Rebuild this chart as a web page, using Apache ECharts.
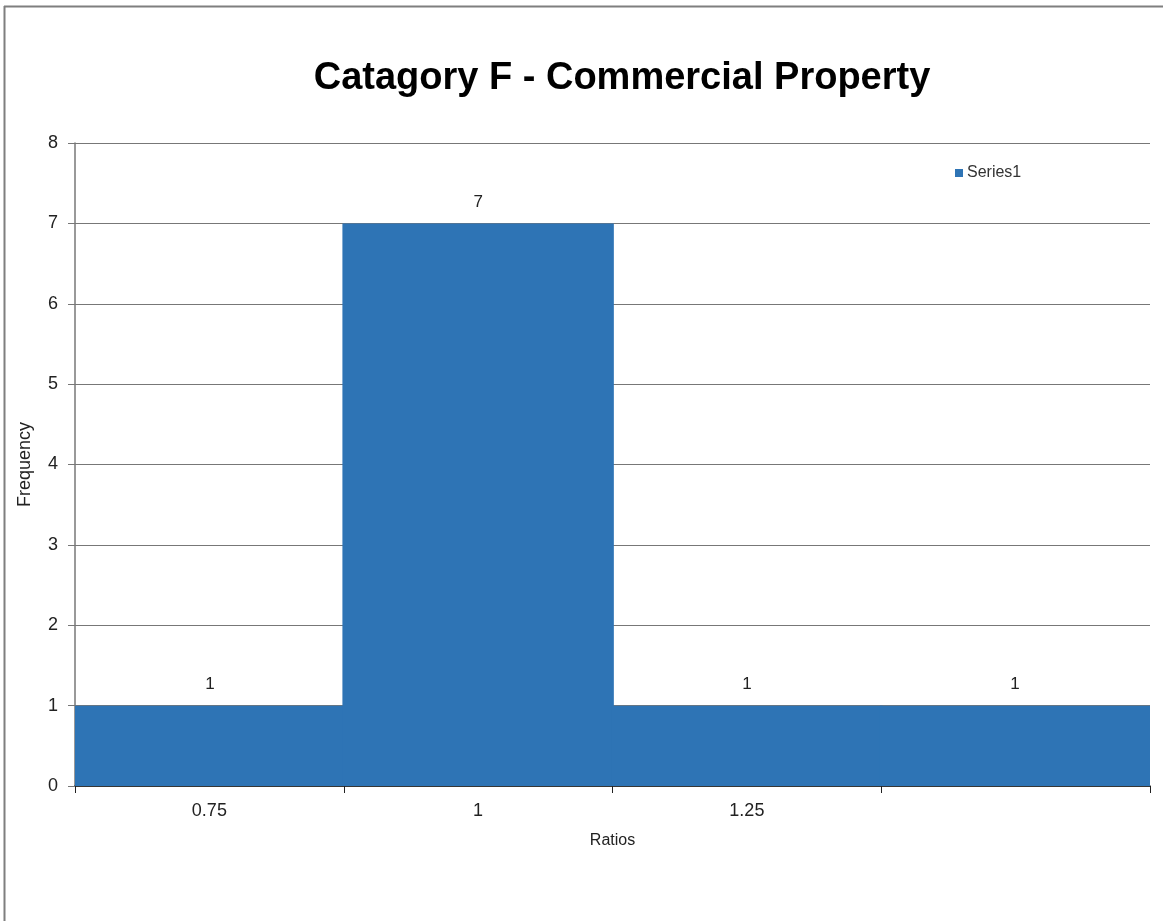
<!DOCTYPE html>
<html>
<head>
<meta charset="utf-8">
<script src="https://cdn.jsdelivr.net/npm/echarts@6/dist/echarts.min.js"></script>
<style>
html,body{margin:0;padding:0;background:#fff;}
#chart{width:1163px;height:921px;}
</style>
</head>
<body>
<div id="chart"></div>
<script>
const categories = ['0.75', '1', '1.25', ''];
const frequency = [1, 7, 1, 1];
const seriesName = 'Series1';
const titleText = 'Catagory F - Commercial Property';

const chart = echarts.init(document.getElementById('chart'));
chart.setOption({
  animation: false,
  backgroundColor: '#ffffff',
  textStyle: { fontFamily: 'Liberation Sans, Arial, sans-serif' },
  graphic: [
    { type: 'line', shape: { x1: 4.5, y1: 6, x2: 4.5, y2: 921 }, style: { stroke: '#7f7f7f', lineWidth: 2 } },
    { type: 'line', shape: { x1: 4, y1: 6.5, x2: 1163, y2: 6.5 }, style: { stroke: '#7f7f7f', lineWidth: 2 } }
  ],
  title: {
    text: titleText,
    left: 617, top: 55, textAlign: 'center',
    textStyle: { fontSize: 38, fontWeight: 'bold', color: '#000', fontFamily: 'Liberation Sans, Arial, sans-serif' }
  },
  legend: {
    data: [seriesName],
    left: 950, top: 160,
    itemWidth: 8, itemHeight: 8, itemGap: 4,
    icon: 'rect',
    textStyle: { fontSize: 16, color: '#333', padding: [0,0,0,-1] }
  },
  grid: { left: 75, right: 13, top: 143, bottom: 135, containLabel: false },
  xAxis: {
    type: 'category',
    data: categories,
    name: 'Ratios',
    nameLocation: 'middle',
    nameGap: 47,
    nameTextStyle: { fontSize: 16, color: '#222' },
    axisLine: { lineStyle: { color: '#222', width: 1.5 } },
    axisTick: { show: true, alignWithLabel: false, length: 7, lineStyle: { color: '#222' }, inside: false },
    axisLabel: { fontSize: 18, color: '#222', margin: 16 },
    splitLine: { show: false }
  },
  yAxis: {
    type: 'value',
    min: 0, max: 8, interval: 1,
    name: 'Frequency',
    nameLocation: 'middle',
    nameGap: 41,
    nameTextStyle: { fontSize: 18, color: '#222' },
    axisLine: { show: true, lineStyle: { color: '#777', width: 1.5 } },
    axisTick: { show: true, length: 7, lineStyle: { color: '#777' } },
    axisLabel: { fontSize: 18, color: '#222', margin: 17 },
    splitLine: { show: true, lineStyle: { color: '#777', width: 1.2 } }
  },
  series: [{
    name: seriesName,
    type: 'bar',
    data: frequency,
    barWidth: '101%',
    clip: true,
    itemStyle: { color: '#2E74B5' },
    label: { show: true, position: 'top', distance: 13, fontSize: 17, color: '#222' }
  }]
});
</script>
</body>
</html>
